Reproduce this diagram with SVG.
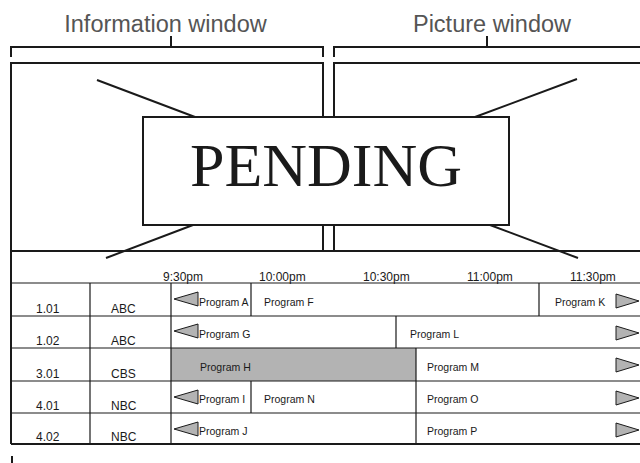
<svg xmlns="http://www.w3.org/2000/svg" width="640" height="463" viewBox="0 0 640 463">
<style>
.ln{stroke:#1a1a1a;fill:none;stroke-width:2}
.thin{stroke:#1a1a1a;fill:none;stroke-width:1.2}
.title{font-family:"Liberation Sans",Arial,sans-serif;font-size:23.5px;fill:#555;text-anchor:middle}
.t{font-family:"Liberation Sans",Arial,sans-serif;font-size:12px;fill:#1a1a1a}
.p{font-family:"Liberation Sans",Arial,sans-serif;font-size:10.5px;fill:#1a1a1a}
.la{fill:#b3b3b3;stroke:#1a1a1a;stroke-width:1}
</style>
<rect width="640" height="463" fill="#fff"/>
<g id="info-label">
<text class="title" x="165.5" y="32">Information window</text>
<path class="ln" d="M11,57V47H323V57M171,36V47"/>
</g>
<g id="picture-label">
<text class="title" x="492" y="32">Picture window</text>
<path class="ln" d="M334,57V47H641M487,36V47"/>
</g>
<g id="info-window">
<path class="ln" d="M11,444V63H323V251"/>
</g>
<g id="picture-window">
<path class="ln" d="M334,251V63H641"/>
</g>
<g id="cross">
<path class="ln" d="M97,80L195,117M193,225L106,258M577,79L475,117M490,225L578,258"/>
</g>
<g id="pending">
<rect x="143" y="117" width="366" height="108" fill="#fff" stroke="#1a1a1a" stroke-width="2"/>
<text x="326" y="186" font-family="'Liberation Serif','Times New Roman',serif" font-size="62" fill="#1a1a1a" text-anchor="middle">PENDING</text>
</g>
<g id="grid">
<rect x="171" y="348" width="245" height="33" fill="#b3b3b3"/>
<path class="ln" d="M11,251H641M11,444H641"/>
<path class="thin" d="M11,283H641M11,316H641M11,348H641M11,381H641M11,413H641"/>
<path class="thin" d="M90,283V444M171,283V444M251,283V316M539,283V316M396,316V348M416,348V444M251,381V413"/>
<path class="ln" d="M12,456V463"/>
</g>
<g id="times" class="t">
<text x="163" y="281">9:30pm</text>
<text x="259" y="281">10:00pm</text>
<text x="363" y="281">10:30pm</text>
<text x="467" y="281">11:00pm</text>
<text x="570" y="281">11:30pm</text>
</g>
<g id="channels" class="t">
<text x="36" y="313">1.01</text><text x="111" y="313">ABC</text>
<text x="36" y="345">1.02</text><text x="111" y="345">ABC</text>
<text x="36" y="378">3.01</text><text x="111" y="378">CBS</text>
<text x="36" y="410">4.01</text><text x="111" y="410">NBC</text>
<text x="36" y="441">4.02</text><text x="111" y="441">NBC</text>
</g>
<g id="programs" class="p">
<text x="199" y="306">Program A</text>
<text x="264" y="306">Program F</text>
<text x="555" y="306">Program K</text>
<text x="199" y="338">Program G</text>
<text x="410" y="338">Program L</text>
<text x="200" y="371">Program H</text>
<text x="427" y="371">Program M</text>
<text x="199" y="403">Program I</text>
<text x="264" y="403">Program N</text>
<text x="427" y="403">Program O</text>
<text x="199" y="435">Program J</text>
<text x="427" y="435">Program P</text>
</g>
<g id="arrows">
<polygon class="la" points="174,299 198,292 198,306"/>
<polygon class="la" points="174,331 198,324 198,338"/>
<polygon class="la" points="174,397 198,390 198,404"/>
<polygon class="la" points="174,429 198,422 198,436"/>
<polygon class="la" points="639,301 616,294 616,308"/>
<polygon class="la" points="639,333 616,326 616,340"/>
<polygon class="la" points="639,365 616,358 616,372"/>
<polygon class="la" points="639,398 616,391 616,405"/>
<polygon class="la" points="639,430 616,423 616,437"/>
</g>
</svg>
